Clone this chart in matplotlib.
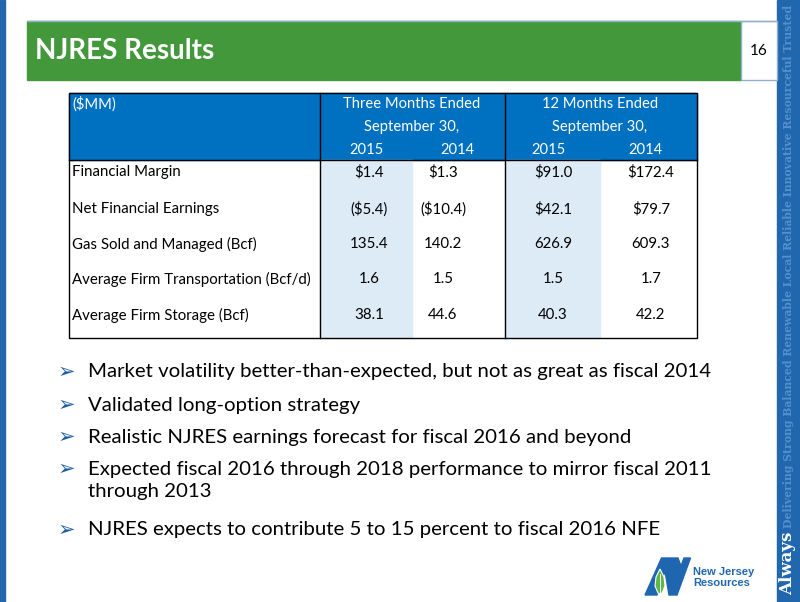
from matplotlib import pyplot as plt
from matplotlib.patches import Rectangle, Polygon

# datos de la tabla
columnas = ['Three Months Ended', '12 Months Ended']
subtitulo = 'September 30,'
anios = ['2015', '2014', '2015', '2014']
filas = ['Financial Margin', 'Net Financial Earnings', 'Gas Sold and Managed (Bcf)',
         'Average Firm Transportation (Bcf/d)', 'Average Firm Storage (Bcf)']
valores = [
    ['$1.4', '$1.3', '$91.0', '$172.4'],
    ['($5.4)', '($10.4)', '$42.1', '$79.7'],
    ['135.4', '140.2', '626.9', '609.3'],
    ['1.6', '1.5', '1.5', '1.7'],
    ['38.1', '44.6', '40.3', '42.2'],
]
viñetas = [
    'Market volatility better-than-expected, but not as great as fiscal 2014',
    'Validated long-option strategy',
    'Realistic NJRES earnings forecast for fiscal 2016 and beyond',
    'Expected fiscal 2016 through 2018 performance to mirror fiscal 2011\nthrough 2013',
    'NJRES expects to contribute 5 to 15 percent to fiscal 2016 NFE',
]
lema = 'Delivering Strong Balanced Renewable Local Reliable Innovative Resourceful Trusted'

VERDE = '#43983b'
AZUL = '#0070c0'
AZUL_FRANJA = '#2067ad'
CELESTE = '#ddebf7'
FUENTE = 'Lato'

fig = plt.figure(figsize=(8, 6.02), dpi=100)
ax = fig.add_axes([0, 0, 1, 1])
ax.set_xlim(0, 800)
ax.set_ylim(602, 0)
ax.axis('off')

# franjas laterales
ax.add_patch(Rectangle((0, 0), 5, 602, color=AZUL_FRANJA))
ax.add_patch(Rectangle((777, 0), 23, 602, color=AZUL_FRANJA))
ax.text(788, 595, 'Always', rotation=90, ha='center', va='bottom', color='white',
        fontsize=12, fontweight='bold', family='DejaVu Serif')
t_lema = ax.text(789, 528, lema, rotation=90, ha='center', va='bottom', color='#5690cc',
                 fontsize=9, fontweight='bold', family='DejaVu Serif')
# ajusta el lema para que quepa en la franja
r = fig.canvas.get_renderer()
alto = t_lema.get_window_extent(r).height
t_lema.set_fontsize(9 * min(1.0, 524 / alto))

# barra de titulo
ax.plot([27, 777], [20.5, 20.5], color='#8fb0cc', lw=1)
ax.add_patch(Rectangle((27, 21), 714, 59, color=VERDE))
ax.add_patch(Rectangle((741, 21), 36, 59, facecolor='white', edgecolor='#8fb0cc', lw=1))
ax.text(35, 51, 'NJRES Results', color='white', fontsize=20, fontweight='bold',
        family=FUENTE, va='center')
ax.text(759, 51, '16', color='black', fontsize=11, family=FUENTE, ha='center', va='center')

# tabla
x0, x1, x2, x3 = 69, 320, 505, 697
y_top, y_head, y_bot = 93, 160, 338
ax.add_patch(Rectangle((x0, y_top), x3 - x0, y_head - y_top, color=AZUL))
ax.add_patch(Rectangle((x1, y_head), 92, y_bot - y_head, color=CELESTE))
ax.add_patch(Rectangle((x2, y_head), 95, y_bot - y_head, color=CELESTE))
ax.add_patch(Rectangle((x0, y_top), x3 - x0, y_bot - y_top, fill=False, edgecolor='black', lw=1))
for xv in (x1, x2):
    ax.plot([xv, xv], [y_top, y_bot], color='black', lw=1)
ax.plot([x0, x3], [y_head, y_head], color='black', lw=1)

ax.text(72, 104, '($MM)', color='white', fontsize=10.6, family=FUENTE, va='center')
for cx, titulo in zip([412, 600], columnas):
    ax.text(cx, 104, titulo, color='white', fontsize=10.6, family=FUENTE, ha='center', va='center')
    ax.text(cx, 127, subtitulo, color='white', fontsize=10.6, family=FUENTE, ha='center', va='center')
for cx, a in zip([367, 457, 548, 645], anios):
    ax.text(cx, 150, a, color='white', fontsize=10.6, family=FUENTE, ha='center', va='center')

filas_y = [172, 209, 244, 279, 315]
cols_x = [369, 443, 553, 651]
for fy, nombre, vals in zip(filas_y, filas, valores):
    ax.text(72, fy, nombre, fontsize=10.8, family=FUENTE, va='center')
    for cx, v in zip(cols_x, vals):
        ax.text(cx, fy, v, fontsize=10.8, family=FUENTE, ha='center', va='center')

# viñetas
viñetas_y = [372, 405, 437, 469, 530]
for vy, txt in zip(viñetas_y, viñetas):
    ax.text(66, vy, '\u27a2', color='#1f5fa0', fontsize=15, family='DejaVu Sans',
            ha='center', va='center')
    for i, linea in enumerate(txt.split('\n')):
        ax.text(88, vy + 22 * i, linea, fontsize=14.7, family=FUENTE, va='center')

# logo
ax.add_patch(Polygon([[645, 595], [661.5, 558], [678, 558], [681, 566], [684, 558],
                      [690.5, 558], [677, 595], [669, 595], [665, 571], [657, 595]],
                     closed=True, color='#1f66b0'))
ax.add_patch(Polygon([[660, 569], [664, 577], [665, 586], [662, 593], [660, 594],
                      [658, 593], [655, 586], [656, 577]],
                     closed=True, facecolor='#5cb848', edgecolor='white', lw=0.8))
ax.plot([660, 660], [574, 593], color='white', lw=0.7)
ax.text(693, 572, 'New Jersey', color='#1f66b0', fontsize=8, fontweight='bold',
        family='Liberation Sans', va='center')
ax.text(693, 582.5, 'Resources', color='#1f66b0', fontsize=8, fontweight='bold',
        family='Liberation Sans', va='center')

plt.savefig('out.png', dpi=100)
